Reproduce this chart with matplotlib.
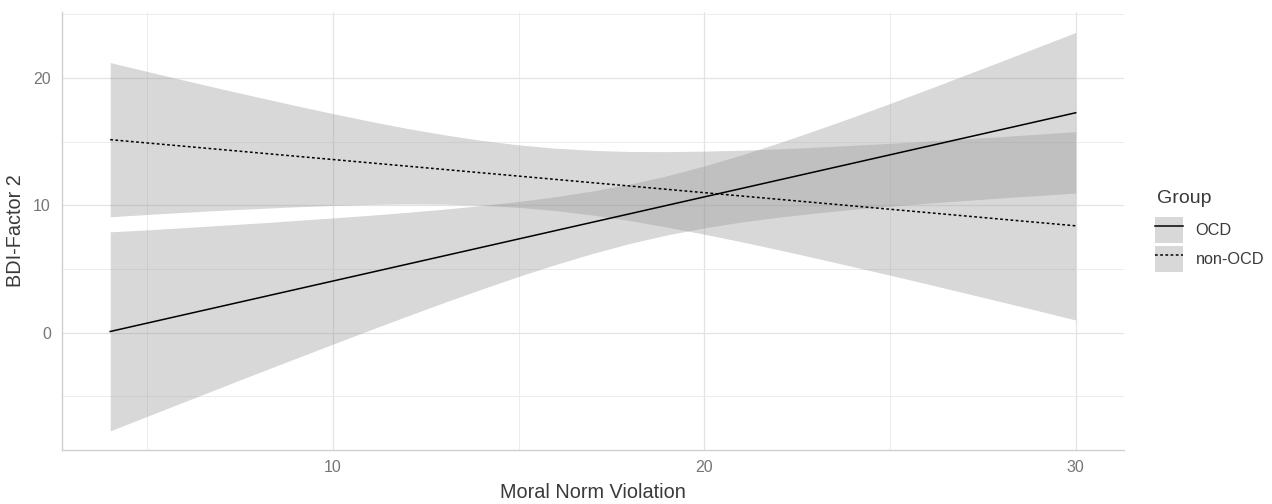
import matplotlib
matplotlib.use("Agg")
import matplotlib.pyplot as plt
from matplotlib.lines import Line2D
from matplotlib.patches import Patch
from matplotlib.ticker import MultipleLocator

# --- data ---
x_vals = [4, 5, 6, 7, 8, 9, 10, 11, 12, 13, 14, 15, 16, 17, 18, 19, 20,
          21, 22, 23, 24, 25, 26, 27, 28, 29, 30]

# OCD: fitted line and confidence band
ocd_fit = [0.10, 0.76, 1.42, 2.08, 2.74, 3.40, 4.06, 4.72, 5.38, 6.04, 6.70,
           7.36, 8.02, 8.68, 9.34, 10.00, 10.66, 11.32, 11.98, 12.64, 13.30,
           13.96, 14.62, 15.28, 15.94, 16.60, 17.26]
ocd_lower = [-7.70, -6.55, -5.41, -4.27, -3.13, -2.01, -0.89, 0.22, 1.31, 2.38,
             3.42, 4.42, 5.36, 6.23, 7.01, 7.68, 8.23, 8.69, 9.07, 9.39, 9.68,
             9.93, 10.16, 10.37, 10.58, 10.77, 10.96]
ocd_upper = [7.92, 8.07, 8.25, 8.43, 8.61, 8.81, 9.01, 9.22, 9.45, 9.70, 9.98,
             10.30, 10.68, 11.13, 11.67, 12.32, 13.09, 13.95, 14.89, 15.89,
             16.92, 17.99, 19.08, 20.19, 21.30, 22.43, 23.56]

# non-OCD: fitted line and confidence band
non_fit = [15.15, 14.89, 14.63, 14.37, 14.11, 13.85, 13.59, 13.33, 13.07,
           12.81, 12.55, 12.29, 12.03, 11.77, 11.51, 11.25, 10.99, 10.73,
           10.47, 10.21, 9.95, 9.69, 9.43, 9.17, 8.91, 8.65, 8.39]
non_lower = [9.10, 9.28, 9.45, 9.61, 9.75, 9.88, 9.99, 10.07, 10.11, 10.09,
             10.01, 9.84, 9.58, 9.23, 8.80, 8.29, 7.73, 7.14, 6.51, 5.86, 5.19,
             4.52, 3.83, 3.13, 2.43, 1.72, 1.00]
non_upper = [21.20, 20.50, 19.81, 19.13, 18.47, 17.82, 17.19, 16.59, 16.03,
             15.53, 15.09, 14.74, 14.48, 14.31, 14.22, 14.21, 14.25, 14.32,
             14.43, 14.56, 14.71, 14.86, 15.03, 15.21, 15.39, 15.58, 15.78]

groups = ["OCD", "non-OCD"]
# -------------------------------

plt.rcParams['font.family'] = ['Liberation Sans', 'DejaVu Sans']

BAND = '#999999'
BAND_ALPHA = 0.38
TICK_COLOR = '#767676'
TITLE_COLOR = '#3a3a3a'
DOTTED = (0, (1.8, 1.6))

fig = plt.figure(figsize=(12.72, 5.04), dpi=100)
ax = fig.add_axes([0.0487, 0.1071, 0.8349, 0.8687])

# ribbons first, then lines (like ggplot layers)
ax.fill_between(x_vals, ocd_lower, ocd_upper, color=BAND, alpha=BAND_ALPHA,
                linewidth=0, zorder=2)
ax.fill_between(x_vals, non_lower, non_upper, color=BAND, alpha=BAND_ALPHA,
                linewidth=0, zorder=2)
ax.plot(x_vals, ocd_fit, color='black', lw=1.1, zorder=3)
ax.plot(x_vals, non_fit, color='black', lw=1.1, linestyle=DOTTED, zorder=3)

ax.set_xlim(2.7, 31.3)
ax.set_ylim(-9.2, 25.15)

ax.xaxis.set_major_locator(MultipleLocator(10))
ax.xaxis.set_minor_locator(MultipleLocator(5))
ax.yaxis.set_major_locator(MultipleLocator(10))
ax.yaxis.set_minor_locator(MultipleLocator(5))

ax.grid(which='major', color='#e3e3e3', lw=0.9, zorder=0)
ax.grid(which='minor', color='#ececec', lw=0.7, zorder=0)
ax.set_axisbelow(True)

for side in ['top', 'right']:
    ax.spines[side].set_visible(False)
for side in ['left', 'bottom']:
    ax.spines[side].set_color('#d0d0d0')
    ax.spines[side].set_linewidth(1.0)

ax.tick_params(which='both', length=0, labelsize=11.5, labelcolor=TICK_COLOR)
ax.tick_params(axis='x', pad=7)
ax.tick_params(axis='y', pad=8)

ax.set_xlabel("Moral Norm Violation", fontsize=14.3, color=TITLE_COLOR,
              labelpad=6)
ax.set_ylabel("BDI-Factor 2", fontsize=14.3, color=TITLE_COLOR, labelpad=6)

# legend title as its own text, keys below it
fig.text(1157 / 1272, 1 - 203 / 504, "Group", fontsize=14, color=TITLE_COLOR,
         ha='left', va='baseline')

handles = [
    (Patch(facecolor=BAND, alpha=BAND_ALPHA, edgecolor='none'),
     Line2D([], [], color='black', lw=1.1)),
    (Patch(facecolor=BAND, alpha=BAND_ALPHA, edgecolor='none'),
     Line2D([], [], color='black', lw=1.1, linestyle=DOTTED)),
]
leg = fig.legend(handles, groups, loc='upper left',
                 bbox_to_anchor=(1155 / 1272, 1 - 217 / 504), frameon=False,
                 fontsize=11.7, handlelength=1.75, handleheight=2.08,
                 handletextpad=0.74, labelspacing=0.2, borderpad=0,
                 borderaxespad=0)
for t in leg.get_texts():
    t.set_color(TITLE_COLOR)

fig.savefig("out.png", dpi=100)
